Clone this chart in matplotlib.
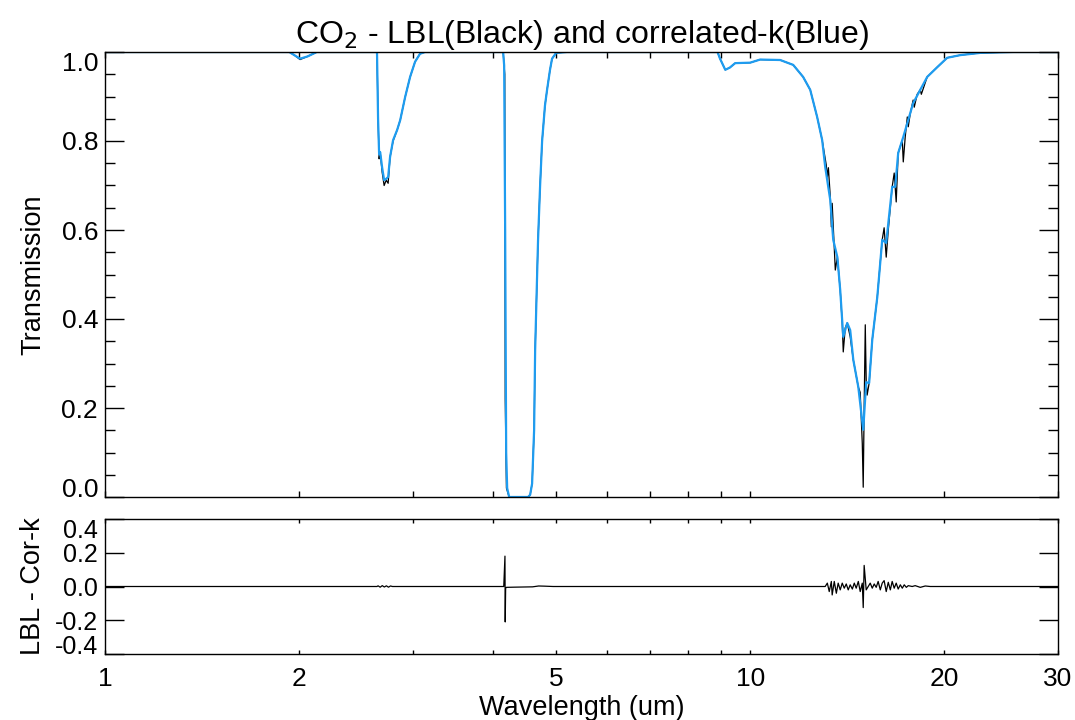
import matplotlib
matplotlib.use('Agg')
import matplotlib.pyplot as plt
from matplotlib.ticker import FixedLocator, NullFormatter

plt.rcParams['font.family'] = ['Liberation Sans', 'DejaVu Sans']

# correlated-k transmission (blue)
ck_wl = [1.0, 1.93, 1.97, 2.006, 2.06, 2.13, 2.64, 2.65, 2.66, 2.67, 2.689, 2.708, 2.728,
         2.747, 2.766, 2.796, 2.837, 2.868, 2.919, 2.971, 3.024, 3.078, 3.134,
         4.13, 4.141, 4.156, 4.171, 4.186, 4.201, 4.231, 4.527, 4.56, 4.592, 4.625, 4.642,
         4.675, 4.691, 4.725, 4.759, 4.808, 4.844, 4.895, 4.931, 5.003, 5.2,
         8.9, 8.98, 9.15, 9.3, 9.48, 10.0, 10.36, 11.13, 11.66, 12.08, 12.39, 12.70,
         12.93, 13.07, 13.31, 13.45, 13.65, 13.79, 13.94, 14.14, 14.29, 14.45, 14.71,
         14.97, 15.13, 15.29, 15.46, 15.74, 16.02, 16.25, 16.60, 16.78, 16.96, 17.27,
         17.52, 17.89, 18.35, 18.81, 19.50, 20.20, 21.17, 22.73, 25.57, 30.0]
ck_t = [1.0, 1.0, 0.992, 0.985, 0.99, 1.0, 1.0, 0.85, 0.77, 0.775, 0.74, 0.712, 0.715,
        0.719, 0.764, 0.802, 0.825, 0.847, 0.899, 0.944, 0.978, 0.996, 1.0,
        1.0, 1.0, 0.97, 0.6, 0.1, 0.02, 0.0, 0.0, 0.005, 0.03, 0.15, 0.33,
        0.5, 0.58, 0.70, 0.80, 0.88, 0.915, 0.96, 0.985, 0.998, 1.0,
        1.0, 0.985, 0.96, 0.965, 0.975, 0.976, 0.983, 0.982, 0.971, 0.944, 0.915, 0.854,
        0.802, 0.742, 0.667, 0.578, 0.539, 0.465, 0.360, 0.391, 0.375, 0.308, 0.247,
        0.151, 0.258, 0.256, 0.353, 0.449, 0.578, 0.571, 0.697, 0.697, 0.773, 0.809,
        0.840, 0.885, 0.915, 0.944, 0.966, 0.987, 0.993, 0.998, 1.0, 1.0]

# line-by-line transmission (black)
lbl_wl = [1.0, 1.93, 1.97, 2.006, 2.06, 2.13, 2.64, 2.65, 2.66, 2.67, 2.689, 2.708, 2.728,
          2.747, 2.766, 2.796, 2.837, 2.868, 2.919, 2.971, 3.024, 3.078, 3.134,
          4.13, 4.141, 4.165, 4.172, 4.19, 4.231, 4.527, 4.56, 4.592, 4.625, 4.642,
          4.675, 4.691, 4.725, 4.759, 4.808, 4.844, 4.895, 4.931, 5.003, 5.2,
          8.9, 8.98, 9.15, 9.3, 9.48, 10.0, 10.36, 11.13, 11.66, 12.08, 12.39, 12.70,
          12.93, 13.12, 13.17, 13.22, 13.31, 13.36, 13.40, 13.50, 13.55, 13.65, 13.79,
          13.89, 13.94, 14.04, 14.14, 14.29, 14.45, 14.71, 14.81, 14.92, 14.97, 15.02,
          15.08, 15.13, 15.18, 15.29, 15.46, 15.74, 16.02, 16.13, 16.25, 16.37, 16.60,
          16.72, 16.84, 16.96, 17.21, 17.27, 17.39, 17.52, 17.58, 17.70, 17.89, 17.96,
          18.15, 18.35, 18.42, 18.81, 19.50, 20.20, 21.17, 22.73, 25.57, 30.0]
lbl_t = [1.0, 1.0, 0.992, 0.983, 0.99, 1.0, 1.0, 0.85, 0.76, 0.775, 0.73, 0.70, 0.712,
         0.705, 0.764, 0.80, 0.825, 0.847, 0.899, 0.944, 0.978, 0.996, 1.0,
         1.0, 1.0, 0.95, 0.22, 0.02, 0.0, 0.0, 0.005, 0.03, 0.15, 0.33,
         0.5, 0.58, 0.70, 0.80, 0.88, 0.915, 0.96, 0.985, 0.998, 1.0,
         1.0, 0.985, 0.96, 0.965, 0.975, 0.976, 0.983, 0.982, 0.971, 0.944, 0.915, 0.854,
         0.802, 0.746, 0.719, 0.740, 0.674, 0.607, 0.660, 0.560, 0.510, 0.539, 0.465,
         0.391, 0.326, 0.380, 0.391, 0.360, 0.308, 0.247, 0.235, 0.12, 0.022, 0.20,
         0.387, 0.26, 0.229, 0.256, 0.353, 0.449, 0.578, 0.605, 0.539, 0.600, 0.697,
         0.728, 0.663, 0.773, 0.802, 0.753, 0.809, 0.854, 0.832, 0.860, 0.892, 0.876,
         0.905, 0.915, 0.905, 0.944, 0.966, 0.987, 0.993, 0.998, 1.0, 1.0]

# LBL - Cor-k residual
res_wl = [1.0, 2.64, 2.65, 2.67, 2.69, 2.71, 2.73, 2.75, 2.77, 2.79, 4.15, 4.168, 4.172, 4.178,
          4.19, 4.3, 4.6, 4.7, 4.8, 4.95, 12.9, 13.07, 13.17, 13.26, 13.36, 13.40, 13.50,
          13.60, 13.69, 13.79, 13.89, 13.99, 14.09, 14.19, 14.29, 14.40, 14.50, 14.60,
          14.71, 14.81, 14.92, 14.97, 15.02, 15.13, 15.24, 15.35, 15.46, 15.57, 15.68,
          15.79, 15.91, 16.02, 16.13, 16.25, 16.37, 16.49, 16.60, 16.72, 16.84, 16.96,
          17.09, 17.21, 17.33, 17.46, 17.58, 17.83, 18.02, 18.35, 18.68, 19.01, 30.0]
res_v = [0.0, 0.0, 0.004, -0.004, 0.005, -0.003, 0.004, -0.004, 0.003, 0.0, 0.0, 0.18, -0.21, -0.01,
         -0.005, -0.004, -0.002, 0.003, 0.002, 0.0, 0.0, 0.0, 0.02, -0.03, 0.03, -0.05, 0.03,
         -0.04, 0.02, -0.02, 0.02, -0.01, 0.015, -0.02, 0.01, -0.015, 0.02, -0.01,
         0.03, -0.03, 0.02, -0.125, 0.125, -0.02, 0.0, 0.02, -0.01, 0.015, -0.005,
         0.03, -0.02, 0.02, 0.035, -0.03, 0.025, -0.02, 0.03, -0.01, 0.02, -0.015,
         0.01, -0.01, 0.01, -0.005, 0.005, 0.0, 0.005, -0.005, 0.003, 0.0, 0.0]

x_major = [1, 2, 5, 10, 20, 30]
x_minor = [3, 4, 6, 7, 8, 9]
blue = '#1e9cf0'
fs = 19

fig = plt.figure(figsize=(10.75, 7.2), dpi=100)
ax1 = fig.add_axes([105 / 1075, 1 - 497 / 720, 953 / 1075, 445 / 720])
ax2 = fig.add_axes([105 / 1075, 1 - 654 / 720, 953 / 1075, 135 / 720])

ax1.plot(lbl_wl, lbl_t, color='black', lw=0.9)
ax1.plot(ck_wl, ck_t, color=blue, lw=1.6)
ax2.plot(res_wl, res_v, color='black', lw=0.9)

for ax in (ax1, ax2):
    ax.set_xscale('log')
    ax.set_xlim(1, 30)
    ax.xaxis.set_major_locator(FixedLocator(x_major))
    ax.xaxis.set_minor_locator(FixedLocator(x_minor))
    ax.xaxis.set_minor_formatter(NullFormatter())
    ax.tick_params(which='both', direction='in', top=True, right=True, labelsize=fs, width=1)
    ax.tick_params(axis='y', which='major', length=14, pad=5)
    ax.tick_params(axis='y', which='minor', length=7)
    for s in ax.spines.values():
        s.set_linewidth(1)

ax1.tick_params(axis='x', which='both', length=4)
ax2.tick_params(axis='x', which='both', length=3, pad=9)
ax2.tick_params(axis='y', labelsize=18)

ax1.set_ylim(0, 1)
ax1.set_yticks([0, 0.2, 0.4, 0.6, 0.8, 1.0])
ax1.set_yticks([i * 0.05 for i in range(21)], minor=True)
ax1.set_yticklabels(['0.0', '0.2', '0.4', '0.6', '0.8', '1.0'])
ax1.xaxis.set_major_formatter(NullFormatter())
ax1.set_ylabel('Transmission', fontsize=fs + 0.5)
ax1.yaxis.set_label_coords(-0.062, 0.5)
ax1.set_title('CO$_2$ - LBL(Black) and correlated-k(Blue)', fontsize=23, pad=6)

ax2.set_ylim(-0.4, 0.4)
ax2.set_yticks([-0.4, -0.2, 0.0, 0.2, 0.4])
ax2.set_yticklabels(['-0.4', '-0.2', '0.0', '0.2', '0.4'])
ax2.set_xticklabels(['1', '2', '5', '10', '20', '30'])
ax2.set_ylabel('LBL - Cor-k', fontsize=fs + 0.5)
ax2.yaxis.set_label_coords(-0.062, 0.5)
ax2.set_xlabel('Wavelength (um)', fontsize=fs + 0.5, labelpad=3)

# IDL style: end labels pulled inside the axis range
for ax in (ax1, ax2):
    labs = ax.get_yticklabels()
    labs[0].set_va('baseline')
    labs[-1].set_va('top')

fig.savefig('out.png', dpi=100)
